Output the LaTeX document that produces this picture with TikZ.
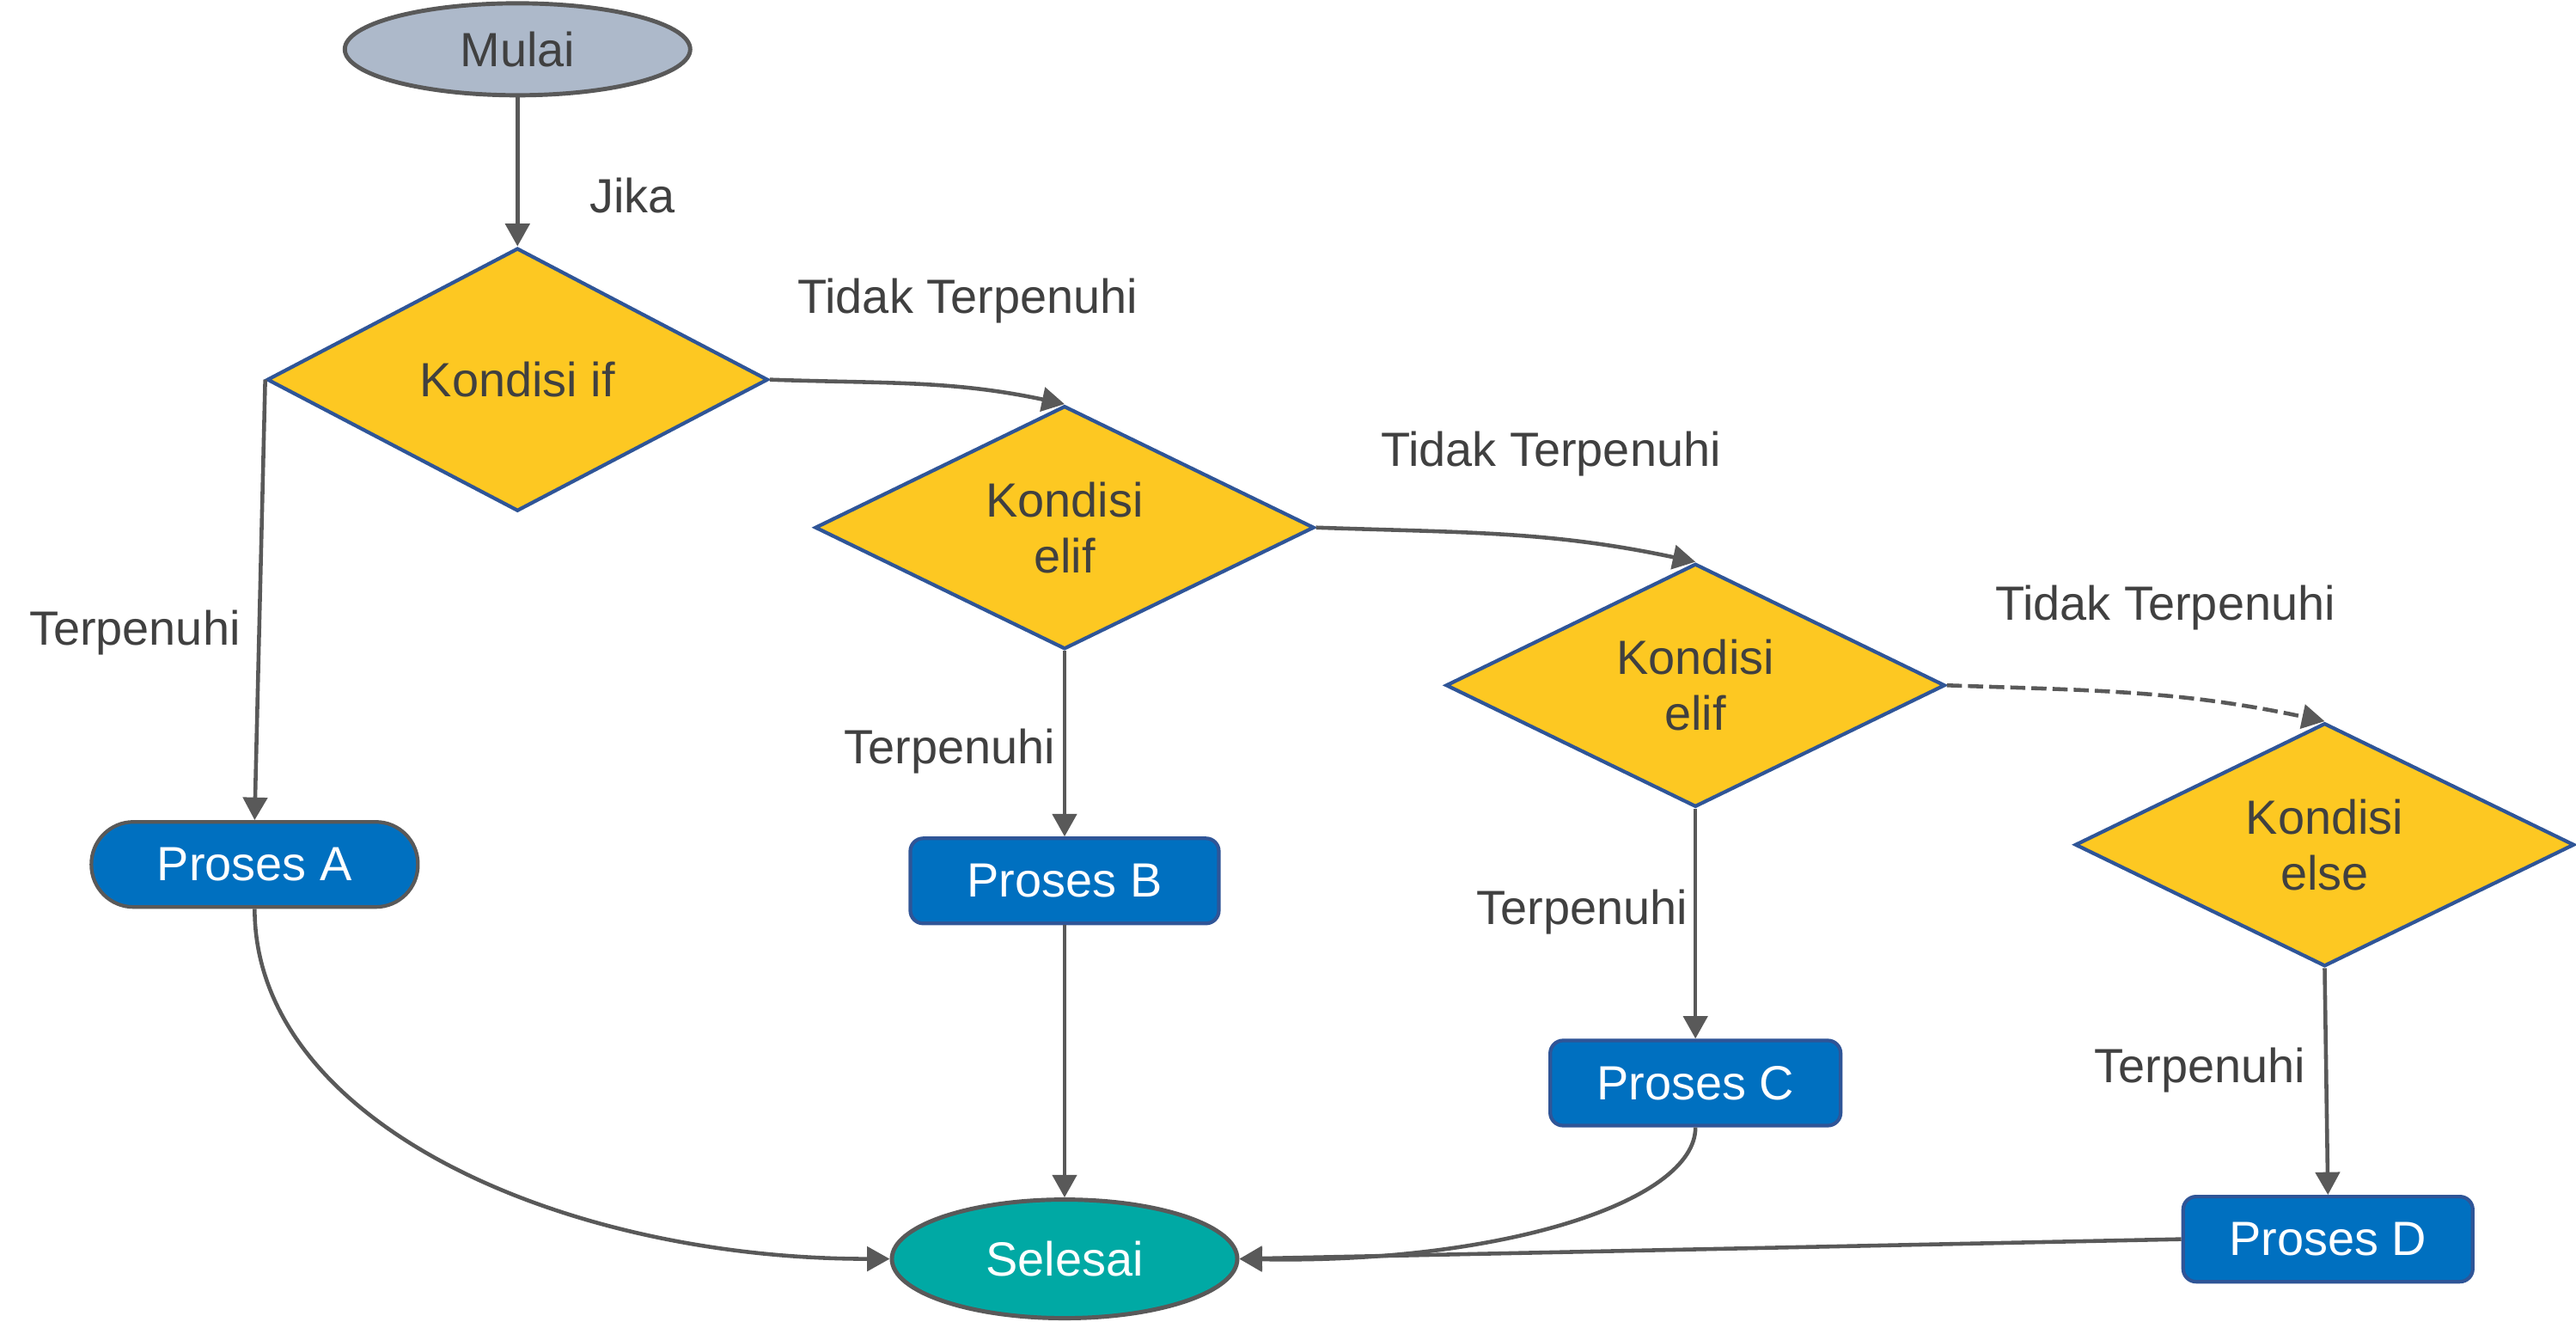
\documentclass[tikz,border=0pt]{standalone}
\usepackage{fontspec}
\setmainfont{Liberation Sans}
\usetikzlibrary{shapes.geometric,arrows.meta}
\definecolor{textgrau}{RGB}{64,64,64}
\definecolor{liniegrau}{RGB}{89,89,89}
\definecolor{randblau}{RGB}{47,85,151}
\definecolor{gelb}{RGB}{253,200,34}
\definecolor{prozessblau}{RGB}{0,112,192}
\definecolor{startgrau}{RGB}{173,185,202}
\definecolor{endtuerkis}{RGB}{0,169,164}

\begin{document}
\begin{tikzpicture}[x=0.01912cm,y=0.01912cm,
    every node/.style={font=\fontsize{15.9}{18.5}\selectfont, text=textgrau},
    pfeil/.style={draw=liniegrau, line width=1.3pt, -{Triangle[width=8pt,length=7.5pt]}},
    raute/.style={diamond, aspect=2, draw=randblau, fill=gelb, line width=1.2pt, align=center, inner sep=0pt, minimum width=5.81cm, minimum height=2.83cm},
    prozess/.style={rectangle, rounded corners=0.15cm, draw=randblau, fill=prozessblau, line width=1.2pt, text=white, minimum height=0.99cm, inner sep=0pt},
    oval/.style={ellipse, draw=liniegrau, line width=1.4pt, inner sep=0pt, minimum width=4.02cm}]
    \useasboundingbox (0,0) rectangle (1568,-804);
    % Anfang und Ende:
    \node[oval, fill=startgrau, minimum height=1.07cm] (mulai) at (315,-30) {Mulai};
    \node[oval, fill=endtuerkis, minimum height=1.38cm, text=white] (selesai) at (648,-766) {Selesai};
    % Rauten:
    \node[raute, minimum width=5.83cm, minimum height=3.06cm] (kif) at (315,-231) {Kondisi if};
    \node[raute] (elif1) at (648,-321) {Kondisi\\elif}; % erste elif
    \node[raute] (elif2) at (1032,-417) {Kondisi\\elif}; % zweite elif
    \node[raute] (kelse) at (1415,-514) {Kondisi\\else};
    % Prozesse:
    \node[prozess, draw=liniegrau, rounded corners=0.49cm, minimum width=3.8cm] (pa) at (155,-526) {Proses A};
    \node[prozess, minimum width=3.59cm] (pb) at (648,-536) {Proses B};
    \node[prozess, minimum width=3.38cm] (pc) at (1032,-659) {Proses C};
    \node[prozess, minimum width=3.37cm] (pd) at (1417,-754) {Proses D};
    % Beschriftungen:
    \node (jika) at (385,-119) {Jika};
    \node (tidak1) at (589,-183) {Tidak Terpenuhi};
    \node (tidak2) at (944,-276) {Tidak Terpenuhi};
    \node (tidak3) at (1318,-370) {Tidak Terpenuhi};
    \node (ja1) at (82,-385) {Terpenuhi};
    \node (ja2) at (578,-457) {Terpenuhi};
    \node (ja3) at (963,-555) {Terpenuhi};
    \node (ja4) at (1339,-651) {Terpenuhi};
    % Pfeile:
    \draw[pfeil] (mulai) -- (kif.north);
    \draw[pfeil] (kif.east) to[out=-2, in=168] (elif1.north);
    \draw[pfeil] (elif1.east) to[out=-2, in=168] (elif2.north);
    \draw[pfeil, dash pattern=on 5pt off 2pt] (elif2.east) to[out=-2, in=168] (kelse.north);
    \draw[pfeil] (kif.west) -- (pa.north);
    \draw[pfeil] (elif1.south) -- (pb.north);
    \draw[pfeil] (elif2.south) -- (pc.north);
    \draw[pfeil] (kelse.south) -- (pd.north);
    \draw[pfeil] (pa.south) .. controls +(0,-130) and +(-200,0) .. (selesai.west);
    \draw[pfeil] (pb.south) -- (selesai.north);
    \draw[pfeil] (pc.south) .. controls +(0,-45) and +(160,-3) .. (selesai.east);
    \draw[pfeil] (pd.west) -- (selesai.east);
\end{tikzpicture}
\end{document}
